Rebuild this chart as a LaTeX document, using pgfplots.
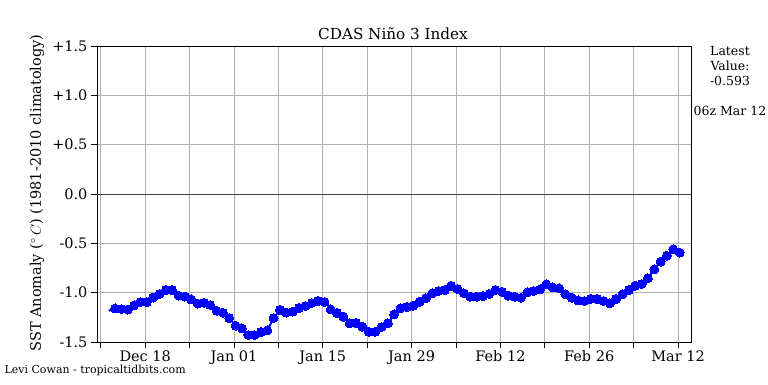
\documentclass[border=0pt]{standalone}
\usepackage{pgfplots}
\pgfplotsset{compat=1.18}
\usepackage{fontspec}
\setmainfont{DejaVu Serif}
\begin{document}
\begin{tikzpicture}[x=1pt,y=1pt]
\path[use as bounding box] (0,0) rectangle (768,384);
\begin{axis}[
  scale only axis,
  width=594pt, height=296pt,
  at={(97pt,42pt)}, anchor=south west,
  xmin=-7.6, xmax=86.05,
  ymin=-1.5, ymax=1.5,
  xtick={0,14,28,42,56,70,84},
  xticklabels={Dec 18,Jan 01,Jan 15,Jan 29,Feb 12,Feb 26,Mar 12},
  minor xtick={-7,7,21,35,49,63,77},
  ytick={-1.5,-1,-0.5,0,0.5,1,1.5},
  yticklabels={-1.5,-1.0,-0.5,0.0,+0.5,+1.0,+1.5},
  tick label style={font=\fontsize{14.5}{17}\selectfont, text=black},
  xticklabel style={yshift=1pt},
  tick align=outside,
  xtick pos=bottom, ytick pos=left,
  major tick length=6pt, minor tick length=6pt,
  tick style={black, line width=0.8pt},
  grid=both,
  major grid style={draw=black!30, line width=0.8pt},
  minor grid style={draw=black!30, line width=0.8pt},
  axis line style={black, line width=1pt},
  clip=false,
]
\draw[black!75, line width=1pt] (axis cs:-7.6,0) -- (axis cs:86.05,0);
\addplot[blue, line width=2pt, mark=*, mark size=4.5pt,
  mark options={fill=blue, draw=blue, line width=0pt}, mark indices={2,...,91}]
coordinates {
(-5.75,-1.183)
(-4.75,-1.160) (-3.75,-1.166) (-2.75,-1.171) (-1.75,-1.130) (-0.75,-1.095)
(0.25,-1.095) (1.25,-1.049) (2.25,-1.013) (3.25,-0.973) (4.25,-0.973)
(5.25,-1.029) (6.25,-1.039) (7.25,-1.069) (8.25,-1.110) (9.25,-1.102)
(10.25,-1.125) (11.25,-1.183) (12.25,-1.203) (13.25,-1.257) (14.25,-1.335)
(15.25,-1.363) (16.25,-1.429) (17.25,-1.429) (18.25,-1.399) (19.25,-1.383)
(20.25,-1.257) (21.25,-1.176) (22.25,-1.201) (23.25,-1.191) (24.25,-1.155)
(25.25,-1.135) (26.25,-1.105) (27.25,-1.084) (28.25,-1.095) (29.25,-1.169)
(30.25,-1.206) (31.25,-1.244) (32.25,-1.310) (33.25,-1.307) (34.25,-1.345)
(35.25,-1.396) (36.25,-1.396) (37.25,-1.348) (38.25,-1.310) (39.25,-1.219)
(40.25,-1.158) (41.25,-1.145) (42.25,-1.132) (43.25,-1.092) (44.25,-1.057)
(45.25,-1.006) (46.25,-0.983) (47.25,-0.973) (48.25,-0.932) (49.25,-0.963)
(50.25,-1.006) (51.25,-1.041) (52.25,-1.041) (53.25,-1.034) (54.25,-1.013)
(55.25,-0.973) (56.25,-0.990) (57.25,-1.031) (58.25,-1.041) (59.25,-1.051)
(60.25,-0.996) (61.25,-0.983) (62.25,-0.966) (63.25,-0.915) (64.25,-0.946)
(65.25,-0.956) (66.25,-1.017) (67.25,-1.051) (68.25,-1.079) (69.25,-1.084)
(70.25,-1.064) (71.25,-1.064) (72.25,-1.084) (73.25,-1.108) (74.25,-1.064)
(75.25,-1.017) (76.25,-0.973) (77.25,-0.929) (78.25,-0.912) (79.25,-0.854)
(80.25,-0.763) (81.25,-0.686) (82.25,-0.625) (83.25,-0.560) (84.25,-0.593)
};
\end{axis}
\node[rotate=90, font=\fontsize{14.5}{17}\selectfont] at (37,191) {SST Anomaly ($^\circ\,C$) (1981-2010 climatology)};
\node[font=\fontsize{15.2}{18}\selectfont] at (393,350) {CDAS Niño 3 Index};
\node[font=\fontsize{12.5}{15}\selectfont, align=center, anchor=north] at (730,341) {Latest\\Value:\\-0.593};
\node[font=\fontsize{12.5}{15}\selectfont] at (730,273) {06z Mar 12};
\node[font=\fontsize{11}{13}\selectfont, anchor=west, inner ysep=1pt] at (1,13.5) {Levi Cowan - tropicaltidbits.com};
\end{tikzpicture}
\end{document}
